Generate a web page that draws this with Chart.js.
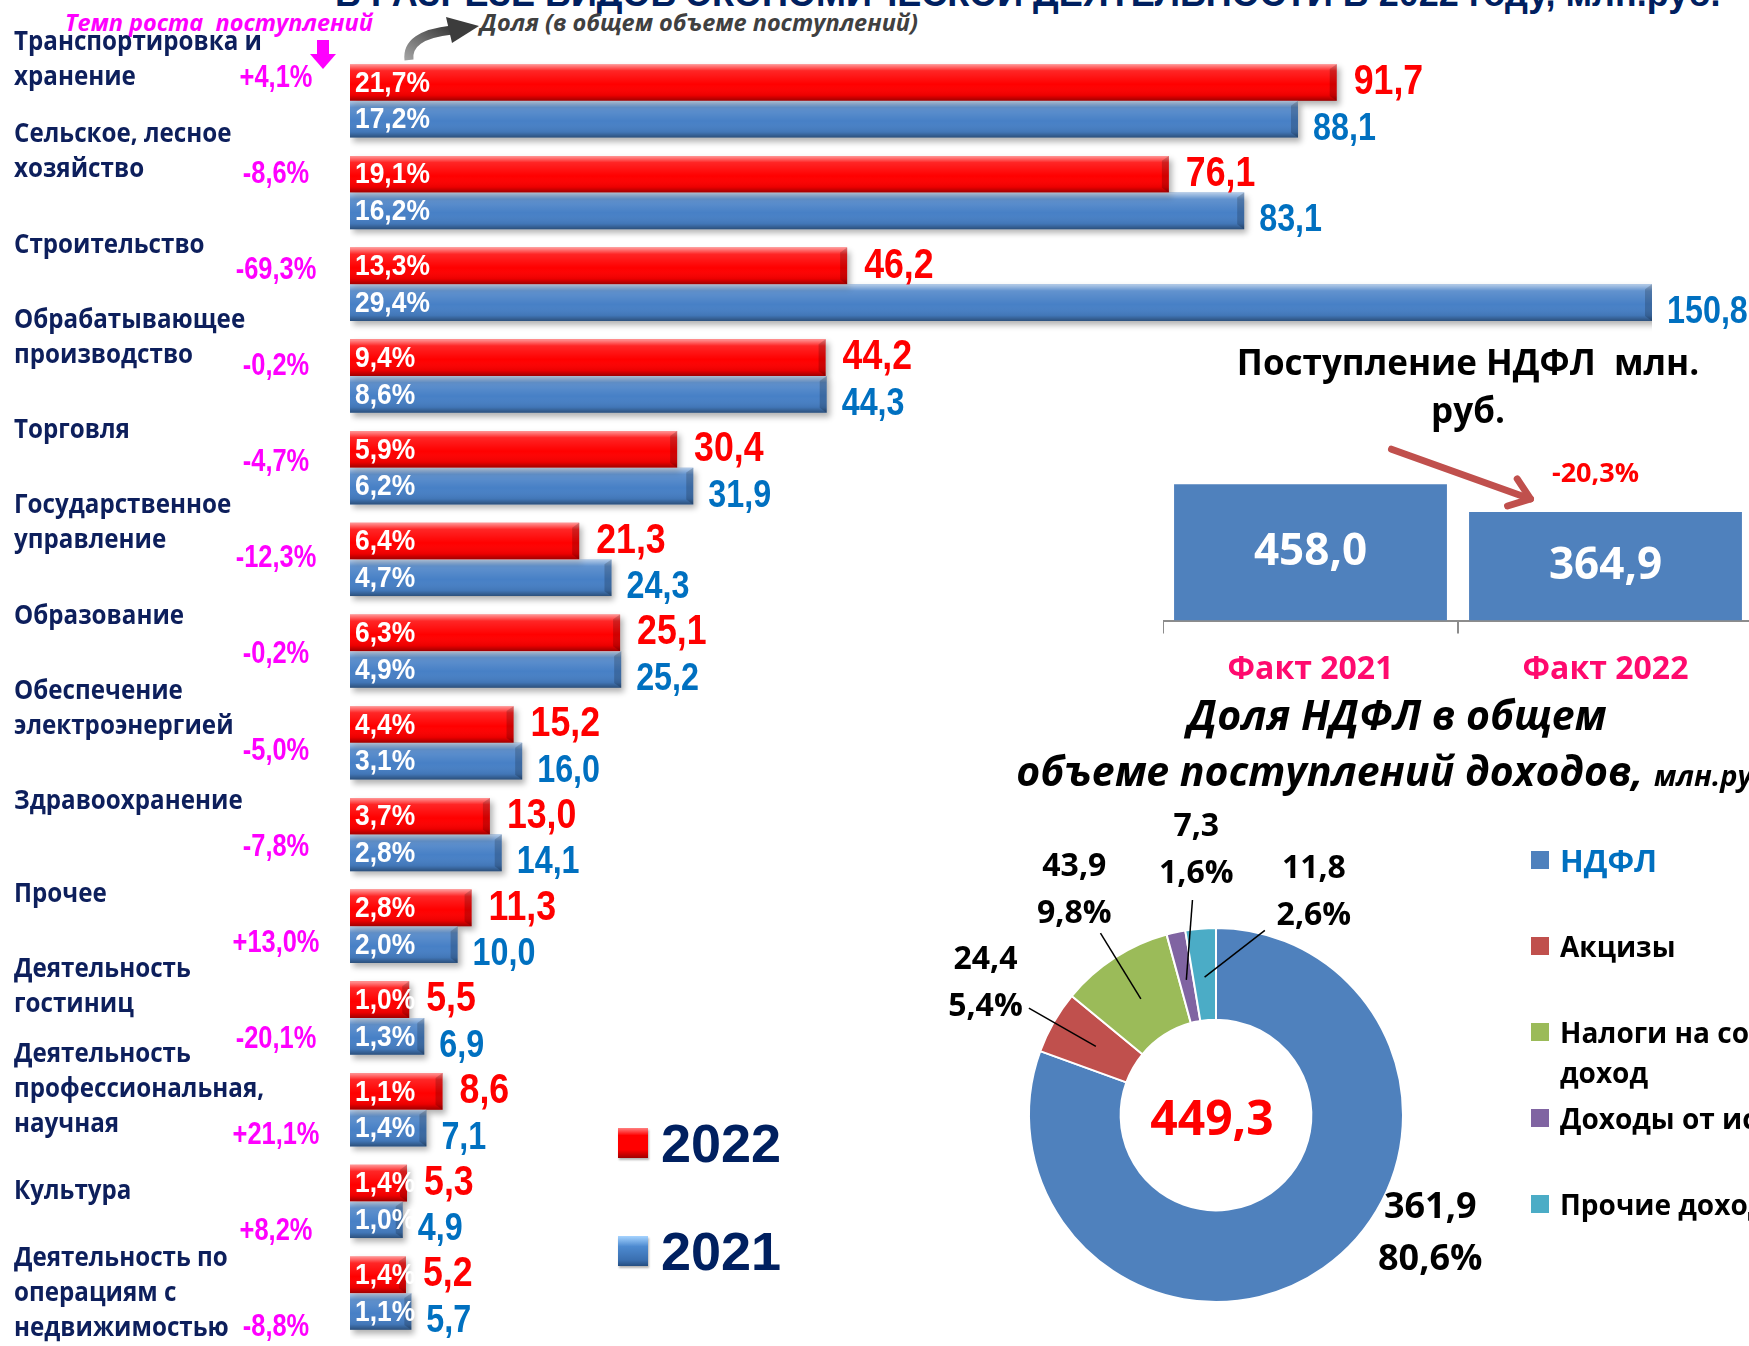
<!DOCTYPE html>
<html lang="ru">
<head>
<meta charset="utf-8">
<script src="https://cdn.jsdelivr.net/npm/chart.js@4.4.1/dist/chart.umd.min.js"></script>
<style>
    html, body { margin: 0; padding: 0; width: 1749px; height: 1346px; overflow: hidden; background: #fff; }
    .abs { position: absolute; white-space: nowrap; }
    #title { left: 335px; top: -24px; font: 700 36px/36px "Liberation Sans", Arial, sans-serif; color: #002060; }
    #growthHead { left: 65px; top: 7px; font: italic 700 23.5px/30px "Open Sans", sans-serif; color: #ff00ff; }
    #shareHead { left: 480px; top: 7px; font: italic 700 23.5px/30px "Open Sans", sans-serif; color: #404040; }
    #sectorChart { left: 0; top: 0; }
    #sectorLegend { left: 618px; top: 1111px; }
    #sectorLegend .item { height: 108px; display: flex; align-items: flex-start; }
    #sectorLegend .sq { width: 30px; height: 30px; margin-top: 17px; margin-right: 13px; box-shadow: 1px 2px 2px rgba(0,0,0,0.3); }
    #sectorLegend .txt { font: 700 54px/64px "Liberation Sans", Arial, sans-serif; color: #002060; }
    #ndflTitle { left: 1168px; width: 600px; top: 338px; text-align: center; font: 700 35px/48px "Open Sans", sans-serif; color: #000; }
    #ndflChart { left: 1163px; top: 430px; }
    #donutTitle { left: 947px; width: 900px; top: 686px; text-align: center; font: italic 700 41px/56px "Open Sans", sans-serif; color: #000; }
    #donutTitle span { font-size: 29px; }
    #incomeChart { left: 900px; top: 790px; }
    #incomeLegend { left: 1531px; top: 840px; }
    #incomeLegend .item { height: 86px; display: flex; align-items: flex-start; }
    #incomeLegend .sq { width: 18px; height: 18px; margin-top: 11px; margin-right: 11px; flex: none; }
    #incomeLegend .txt { font: 700 28px/40px "Open Sans", sans-serif; color: #000; }
</style>
</head>
<body>
<div id="title" class="abs">В РАЗРЕЗЕ ВИДОВ ЭКОНОМИЧЕСКОЙ ДЕЯТЕЛЬНОСТИ В 2022 году, млн.руб.</div>
<div id="growthHead" class="abs">Темп роста&nbsp; поступлений</div>
<div id="shareHead" class="abs">Доля (в общем объеме поступлений)</div>
<svg class="abs" style="left:0;top:0" width="600" height="100">
    <defs>
        <linearGradient id="grayArrow" x1="0" y1="1" x2="1" y2="0">
            <stop offset="0" stop-color="#a0a0a0"/>
            <stop offset="1" stop-color="#3c3c3c"/>
        </linearGradient>
    </defs>
    <path d="M409 60 Q406 35 452 30" fill="none" stroke="url(#grayArrow)" stroke-width="9"/>
    <polygon points="446,17 479,26 452,43" fill="#3c3c3c"/>
    <rect x="317" y="40" width="12" height="15" fill="#ff00ff"/>
    <polygon points="310,54 336,54 323,69" fill="#ff00ff"/>
</svg>

<canvas id="sectorChart" class="abs" width="1749" height="1346"></canvas>
<div id="sectorLegend" class="abs"></div>

<div id="ndflTitle" class="abs">Поступление НДФЛ&nbsp; млн.<br>руб.</div>
<canvas id="ndflChart" class="abs" width="590" height="276"></canvas>

<div id="donutTitle" class="abs">Доля НДФЛ в общем<br>объеме поступлений доходов, <span>млн.руб.</span></div>
<canvas id="incomeChart" class="abs" width="632" height="556"></canvas>
<div id="incomeLegend" class="abs"></div>

<script>
// Поступления по видам экономической деятельности, млн.руб.
const categories = [
    ['Транспортировка и', 'хранение'],
    ['Сельское, лесное', 'хозяйство'],
    ['Строительство'],
    ['Обрабатывающее', 'производство'],
    ['Торговля'],
    ['Государственное', 'управление'],
    ['Образование'],
    ['Обеспечение', 'электроэнергией'],
    ['Здравоохранение'],
    ['Прочее'],
    ['Деятельность', 'гостиниц'],
    ['Деятельность', 'профессиональная,', 'научная'],
    ['Культура'],
    ['Деятельность по', 'операциям с', 'недвижимостью']
];
const values2022 = [91.7, 76.1, 46.2, 44.2, 30.4, 21.3, 25.1, 15.2, 13.0, 11.3, 5.5, 8.6, 5.3, 5.2];
const values2021 = [88.1, 83.1, 150.8, 44.3, 31.9, 24.3, 25.2, 16.0, 14.1, 10.0, 6.9, 7.1, 4.9, 5.7];
const share2022 = [21.7, 19.1, 13.3, 9.4, 5.9, 6.4, 6.3, 4.4, 3.7, 2.8, 1.0, 1.1, 1.4, 1.4];
const share2021 = [17.2, 16.2, 29.4, 8.6, 6.2, 4.7, 4.9, 3.1, 2.8, 2.0, 1.3, 1.4, 1.0, 1.1];
const growth = [4.1, -8.6, -69.3, -0.2, -4.7, -12.3, -0.2, -5.0, -7.8, 13.0, -20.1, 21.1, 8.2, -8.8];

// Поступление НДФЛ
const ndflYears = ['Факт 2021', 'Факт 2022'];
const ndflValues = [458.0, 364.9];

// Структура доходов
const incomeLabels = ['НДФЛ', 'Акцизы', ['Налоги на совокупный', 'доход'], 'Доходы от использования имущества', 'Прочие доходы'];
const incomeValues = [361.9, 24.4, 43.9, 7.3, 11.8];
const incomeShares = [80.6, 5.4, 9.8, 1.6, 2.6];
const incomeColors = ['#4f81bd', '#c0504d', '#9bbb59', '#8064a2', '#4bacc6'];

Chart.defaults.font.family = '"Open Sans", sans-serif';

const fmt = v => v.toFixed(1).replace('.', ',');

// narrow text like in the original presentation
function squeezeText(ctx, text, x, y, sx, align) {
    ctx.save();
    ctx.translate(x, y);
    ctx.scale(sx, 1);
    ctx.textAlign = align;
    ctx.fillText(text, 0, 0);
    ctx.restore();
}

const sectorDecor = {
    id: 'sectorDecor',
    beforeDatasetsDraw(chart) {
        const ctx = chart.ctx;
        ctx.save();
        ctx.shadowColor = 'rgba(0,0,0,0.3)';
        ctx.shadowBlur = 6;
        ctx.shadowOffsetX = 3;
        ctx.shadowOffsetY = 4;
    },
    afterDatasetsDraw(chart) {
        const ctx = chart.ctx;
        ctx.restore();
        const area = chart.chartArea;
        // glossy 3D look on every bar
        chart.data.datasets.forEach((ds, di) => {
            chart.getDatasetMeta(di).data.forEach(bar => {
                const left = Math.min(bar.x, bar.base);
                const right = Math.min(Math.max(bar.x, bar.base), area.right);
                const top = bar.y - bar.height / 2, bottom = bar.y + bar.height / 2;
                const g = ctx.createLinearGradient(0, top, 0, bottom);
                g.addColorStop(0, 'rgba(255,255,255,0.6)');
                g.addColorStop(0.18, 'rgba(255,255,255,0.15)');
                g.addColorStop(0.55, 'rgba(255,255,255,0)');
                g.addColorStop(0.85, 'rgba(0,0,0,0.08)');
                g.addColorStop(1, 'rgba(0,0,0,0.38)');
                ctx.fillStyle = g;
                ctx.fillRect(left, top, right - left, bottom - top);
                const b = Math.min(7, (right - left) / 3);
                ctx.fillStyle = 'rgba(0,0,0,0.18)';
                ctx.beginPath();
                ctx.moveTo(right - b, top + b * 0.7);
                ctx.lineTo(right, top);
                ctx.lineTo(right, bottom);
                ctx.lineTo(right - b, bottom - b * 0.7);
                ctx.closePath();
                ctx.fill();
            });
        });
    },
    afterDraw(chart) {
        const ctx = chart.ctx;
        const area = chart.chartArea;
        const yScale = chart.scales.y;
        ctx.save();
        ctx.textBaseline = 'middle';

        // category names and growth rates on the left
        categories.forEach((lines, i) => {
            const c = yScale.getPixelForValue(i);
            const mid = c - 41 + i + 9.5 * Math.max(0, i - 10);
            ctx.font = '700 26px "Open Sans"';
            ctx.fillStyle = '#0d1f5c';
            lines.forEach((t, k) => squeezeText(ctx, t, 14, mid + (k - (lines.length - 1) / 2) * 35, 0.93, 'left'));
            ctx.font = '700 31px "Liberation Sans"';
            ctx.fillStyle = '#ff00ff';
            const g = (growth[i] > 0 ? '+' : '') + fmt(growth[i]) + '%';
            squeezeText(ctx, g, 276, c - 22 + 4.3 * i, 0.82, 'center');
        });

        // values and shares on the bars
        const red = chart.getDatasetMeta(0).data;
        const blue = chart.getDatasetMeta(1).data;
        red.forEach((bar, i) => {
            ctx.font = '700 42px "Liberation Sans"';
            ctx.fillStyle = '#ff0000';
            squeezeText(ctx, fmt(values2022[i]), Math.min(bar.x, area.right) + 17, bar.y, 0.85, 'left');
            ctx.font = '700 30px "Liberation Sans"';
            ctx.fillStyle = '#fff';
            squeezeText(ctx, fmt(share2022[i]) + '%', bar.base + 5, bar.y + 1, 0.88, 'left');
        });
        blue.forEach((bar, i) => {
            ctx.font = '700 38px "Liberation Sans"';
            ctx.fillStyle = '#0070c0';
            squeezeText(ctx, fmt(values2021[i]), Math.min(bar.x, area.right) + 15, bar.y + 10, 0.85, 'left');
            ctx.font = '700 30px "Liberation Sans"';
            ctx.fillStyle = '#fff';
            squeezeText(ctx, fmt(share2021[i]) + '%', bar.base + 5, bar.y + 1, 0.88, 'left');
        });
        ctx.restore();
    }
};

const sectorChart = new Chart(document.getElementById('sectorChart'), {
    type: 'bar',
    data: {
        labels: categories,
        datasets: [
            { label: '2022', data: values2022, backgroundColor: '#ff0000', categoryPercentage: 0.8, barPercentage: 1 },
            { label: '2021', data: values2021, backgroundColor: '#4780c6', categoryPercentage: 0.8, barPercentage: 1 }
        ]
    },
    options: {
        indexAxis: 'y',
        responsive: false,
        animation: false,
        layout: { padding: { left: 350, right: 97, top: 55, bottom: 7 } },
        plugins: { legend: { display: false }, tooltip: { enabled: false } },
        scales: {
            x: { display: false, min: 0, max: 121 },
            y: { display: false }
        }
    },
    plugins: [sectorDecor]
});

// legend for the years
const squareFill = {
    '2022': 'linear-gradient(180deg, #ff8080 0%, #ff0000 25%, #ff0000 72%, #a00000 100%)',
    '2021': 'linear-gradient(180deg, #a6d4ff 0%, #4d8ad0 35%, #3a6fb0 80%, #244d80 100%)'
};
document.getElementById('sectorLegend').innerHTML = sectorChart.data.datasets.map(ds =>
    '<div class="item"><div class="sq" style="background:' + squareFill[ds.label] + '"></div><div class="txt">' + ds.label + '</div></div>'
).join('');

const ndflDecor = {
    id: 'ndflDecor',
    afterDatasetsDraw(chart) {
        const ctx = chart.ctx;
        const bars = chart.getDatasetMeta(0).data;
        ctx.save();
        ctx.font = '700 44px "Open Sans"';
        ctx.fillStyle = '#fff';
        ctx.textAlign = 'center';
        ctx.textBaseline = 'middle';
        bars.forEach((b, i) => ctx.fillText(fmt(ndflValues[i]), b.x, (b.y + b.base) / 2));

        // arrow between the two bars
        const a = bars[0], z = bars[1];
        const x1 = a.x + 81, y1 = a.y - 35, x2 = z.x - 75, y2 = z.y - 13;
        ctx.strokeStyle = '#c0504d';
        ctx.lineWidth = 7;
        ctx.lineCap = 'round';
        ctx.lineJoin = 'round';
        ctx.beginPath();
        ctx.moveTo(x1, y1);
        ctx.lineTo(x2, y2);
        ctx.stroke();
        const ang = Math.atan2(y2 - y1, x2 - x1), h = 24;
        ctx.beginPath();
        ctx.moveTo(x2 + h * Math.cos(ang + 2.5), y2 + h * Math.sin(ang + 2.5));
        ctx.lineTo(x2, y2);
        ctx.lineTo(x2 + h * Math.cos(ang - 2.5), y2 + h * Math.sin(ang - 2.5));
        ctx.stroke();

        const change = (ndflValues[1] / ndflValues[0] - 1) * 100;
        ctx.font = '700 27px "Open Sans"';
        ctx.fillStyle = '#ff0000';
        ctx.fillText(fmt(change) + '%', z.x - 10, z.y - 38);
        ctx.restore();
    }
};

new Chart(document.getElementById('ndflChart'), {
    type: 'bar',
    data: {
        labels: ndflYears,
        datasets: [{ data: ndflValues, backgroundColor: '#4f81bd', barPercentage: 0.925, categoryPercentage: 1 }]
    },
    options: {
        responsive: false,
        animation: false,
        layout: { padding: 0 },
        plugins: { legend: { display: false }, tooltip: { enabled: false } },
        scales: {
            x: {
                grid: { display: true, drawOnChartArea: false, tickLength: 13, color: '#8c8c8c', lineWidth: 2, offset: true },
                border: { display: true, color: '#8c8c8c', width: 2 },
                ticks: { color: '#ff0a6e', font: { weight: 'bold', size: 32 }, padding: 17 }
            },
            y: { display: false, min: 0, max: 640 }
        }
    },
    plugins: [ndflDecor]
});

const incomeDecor = {
    id: 'incomeDecor',
    afterDraw(chart) {
        const ctx = chart.ctx;
        const arcs = chart.getDatasetMeta(0).data;
        const cx = arcs[0].x, cy = arcs[0].y, R = arcs[0].outerRadius;
        const deg = Math.PI / 180;
        let prev = -Infinity;
        ctx.save();
        ctx.textAlign = 'center';
        ctx.textBaseline = 'middle';
        ctx.fillStyle = '#000';
        ctx.strokeStyle = '#000';
        ctx.lineWidth = 1.5;
        arcs.forEach((arc, i) => {
            const mid = ((arc.startAngle + arc.endAngle) / 2 + Math.PI / 2) / deg;
            let ang, r, size, gap;
            if (i === 0) {
                ang = 119; r = 1.31 * R; size = 36; gap = 52;
            } else {
                // spread the small slices so their labels do not collide
                ang = Math.max(mid, prev + 28); prev = ang;
                r = (ang - mid > 15 ? 1.3 : 1.42) * R; size = 32; gap = 47;
            }
            const lx = cx + r * Math.sin(ang * deg), ly = cy - r * Math.cos(ang * deg);
            ctx.font = '700 ' + size + 'px "Open Sans"';
            ctx.fillText(fmt(incomeValues[i]), lx, ly - gap / 2);
            ctx.fillText(fmt(incomeShares[i]) + '%', lx, ly + gap / 2);
            if (i > 0) {
                const ax = cx + 0.74 * R * Math.sin(mid * deg), ay = cy - 0.74 * R * Math.cos(mid * deg);
                const d = Math.hypot(ax - lx, ay - ly);
                const s = ang - mid > 15 ? 62 : 50;
                ctx.beginPath();
                ctx.moveTo(lx + (ax - lx) / d * s, ly + (ay - ly) / d * s);
                ctx.lineTo(ax, ay);
                ctx.stroke();
            }
        });
        const total = incomeValues.reduce((s, v) => s + v, 0);
        ctx.font = '700 48px "Open Sans"';
        ctx.fillStyle = '#ff0000';
        ctx.fillText(fmt(total), cx - 4, cy + 6);
        ctx.restore();
    }
};

new Chart(document.getElementById('incomeChart'), {
    type: 'doughnut',
    data: {
        labels: incomeLabels,
        datasets: [{ data: incomeValues, backgroundColor: incomeColors, borderColor: '#fff', borderWidth: 2 }]
    },
    options: {
        responsive: false,
        animation: false,
        cutout: '51%',
        layout: { padding: { left: 128, right: 128, top: 137, bottom: 43 } },
        plugins: { legend: { display: false }, tooltip: { enabled: false } }
    },
    plugins: [incomeDecor]
});

// legend for the income structure
document.getElementById('incomeLegend').innerHTML = incomeLabels.map((lab, i) => {
    const lines = Array.isArray(lab) ? lab : [lab];
    const style = i === 0 ? ' style="color:#0070c0;font-size:31px"' : '';
    return '<div class="item"><div class="sq" style="background:' + incomeColors[i] + '"></div><div class="txt"' + style + '>' + lines.join('<br>') + '</div></div>';
}).join('');
</script>
</body>
</html>
